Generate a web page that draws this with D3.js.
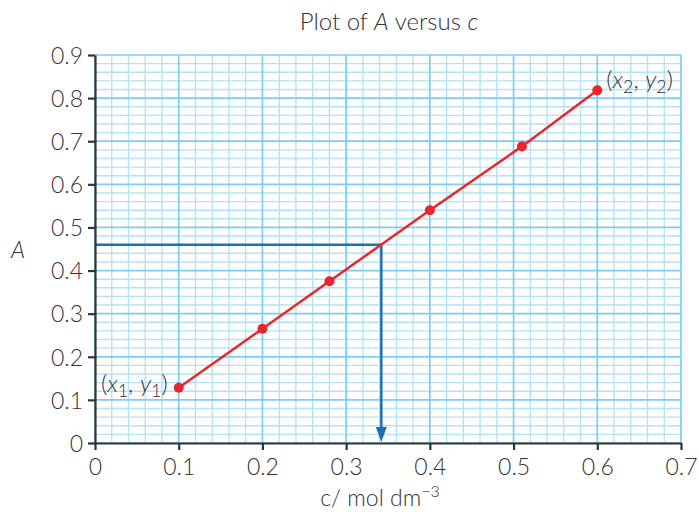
<!DOCTYPE html>
<html>
<head>
<meta charset="utf-8">
<script src="https://cdn.jsdelivr.net/npm/d3@7"></script>
<style>
  html, body { margin: 0; padding: 0; background: #fff; }
  svg text { font-family: "Lato", "Noto Sans", sans-serif; fill: #333; }
</style>
</head>
<body>
<svg id="chart" width="699" height="512"></svg>
<script>
// Concentration (mol dm^-3) and absorbance readings
const concentration = [0.1, 0.2, 0.28, 0.4, 0.51, 0.6];
const absorbance = [0.128, 0.265, 0.375, 0.54, 0.688, 0.818];

// Reading taken from the calibration line for an unknown sample
const unknownAbsorbance = 0.46;
const unknownConcentration = 0.342;

const xTicks = [0, 0.1, 0.2, 0.3, 0.4, 0.5, 0.6, 0.7];
const yTicks = [0, 0.1, 0.2, 0.3, 0.4, 0.5, 0.6, 0.7, 0.8, 0.9];

const svg = d3.select("#chart");
const margin = { left: 95, right: 16, top: 55, bottom: 69 };
const W = 699, H = 512;

const x = d3.scaleLinear().domain([0, 0.7]).range([margin.left, W - margin.right - 2]);
const y = d3.scaleLinear().domain([0, 0.9]).range([H - margin.bottom, margin.top]);

// Graph-paper grid: fine lines every 0.02, stronger lines every 0.1
const fineX = d3.range(0, 0.7001, 0.02).filter(v => Math.abs(v * 10 - Math.round(v * 10)) > 1e-6);
const fineY = d3.range(0, 0.9001, 0.02).filter(v => Math.abs(v * 10 - Math.round(v * 10)) > 1e-6);

const grid = svg.append("g");
grid.selectAll("line.fx").data(fineX).join("line")
  .attr("x1", d => x(d)).attr("x2", d => x(d))
  .attr("y1", y(0)).attr("y2", y(0.9))
  .attr("stroke", "#b3e2f7").attr("stroke-width", 1.4);
grid.selectAll("line.fy").data(fineY).join("line")
  .attr("y1", d => y(d)).attr("y2", d => y(d))
  .attr("x1", x(0)).attr("x2", x(0.7))
  .attr("stroke", "#b3e2f7").attr("stroke-width", 1.4);
grid.selectAll("line.mx").data(xTicks).join("line")
  .attr("x1", d => x(d)).attr("x2", d => x(d))
  .attr("y1", y(0)).attr("y2", y(0.9))
  .attr("stroke", "#7ccdf0").attr("stroke-width", 1.7);
grid.selectAll("line.my").data(yTicks).join("line")
  .attr("y1", d => y(d)).attr("y2", d => y(d))
  .attr("x1", x(0)).attr("x2", x(0.7))
  .attr("stroke", "#7ccdf0").attr("stroke-width", 1.7);

// Construction lines reading the unknown sample off the graph
const blue = "#1f6db5";
svg.append("line")
  .attr("x1", x(0)).attr("x2", x(unknownConcentration))
  .attr("y1", y(unknownAbsorbance)).attr("y2", y(unknownAbsorbance))
  .attr("stroke", blue).attr("stroke-width", 2.5);
svg.append("line")
  .attr("x1", x(unknownConcentration)).attr("x2", x(unknownConcentration))
  .attr("y1", y(unknownAbsorbance) - 1.2).attr("y2", y(0) - 12)
  .attr("stroke", blue).attr("stroke-width", 2.5);
const ax = x(unknownConcentration), ay = y(0);
svg.append("path")
  .attr("d", `M${ax - 5.5},${ay - 16} L${ax + 5.5},${ay - 16} L${ax},${ay - 1} Z`)
  .attr("fill", blue);

// Calibration line and data points
const red = "#e8262b";
const pts = concentration.map((c, i) => [c, absorbance[i]]);
svg.append("path")
  .datum(pts)
  .attr("d", d3.line().x(d => x(d[0])).y(d => y(d[1])))
  .attr("fill", "none").attr("stroke", red).attr("stroke-width", 2.5);
svg.selectAll("circle.pt").data(pts).join("circle")
  .attr("cx", d => x(d[0])).attr("cy", d => y(d[1]))
  .attr("r", 5).attr("fill", red);

// Axes
const xAxis = svg.append("g")
  .attr("transform", `translate(0,${y(0)})`)
  .call(d3.axisBottom(x).tickValues(xTicks).tickFormat(d => d === 0 ? "0" : d3.format(".1f")(d)).tickSize(7).tickSizeOuter(0));
const yAxis = svg.append("g")
  .attr("transform", `translate(${x(0)},0)`)
  .call(d3.axisLeft(y).tickValues(yTicks).tickFormat(d => d === 0 ? "0" : d3.format(".1f")(d)).tickSize(7).tickSizeOuter(0));

[xAxis, yAxis].forEach(g => {
  g.select(".domain").attr("stroke", "#333").attr("stroke-width", 2.2);
  g.selectAll(".tick line").attr("stroke", "#333").attr("stroke-width", 2.2);
  g.selectAll(".tick text")
    .attr("fill", "#333")
    .style("font-family", "Lato, 'Noto Sans', sans-serif")
    .style("font-size", "23px")
    .style("font-weight", 300);
});
xAxis.selectAll(".tick text").attr("dy", "0.95em").attr("y", 10);
yAxis.selectAll(".tick text").attr("x", -12).attr("dy", "0.36em");

// Title
const title = svg.append("text")
  .attr("x", 389).attr("y", 30)
  .attr("text-anchor", "middle")
  .style("font-size", "24px").style("font-weight", 300);
title.append("tspan").text("Plot of ");
title.append("tspan").attr("font-style", "italic").text("A");
title.append("tspan").text(" versus ");
title.append("tspan").attr("font-style", "italic").text("c");

// Axis titles
svg.append("text")
  .attr("x", 18).attr("y", 258)
  .attr("text-anchor", "middle")
  .attr("font-style", "italic")
  .style("font-size", "23px").style("font-weight", 300)
  .text("A");

const xt = svg.append("text")
  .attr("x", 380).attr("y", 506)
  .attr("text-anchor", "middle")
  .style("font-size", "23px").style("font-weight", 300);
xt.append("tspan").text("c/ mol dm");
xt.append("tspan").attr("dy", -9).style("font-size", "16px").text("\u22123");

// Point annotations
function coordLabel(px, py, sub, anchor) {
  const t = svg.append("text")
    .attr("x", px).attr("y", py)
    .attr("text-anchor", anchor)
    .style("font-size", "24px").style("font-weight", 300);
  t.append("tspan").text("(");
  t.append("tspan").attr("font-style", "italic").text("x");
  t.append("tspan").attr("dy", 5).style("font-size", "18px").text(sub);
  t.append("tspan").attr("dy", -5).text(", ");
  t.append("tspan").attr("font-style", "italic").text("y");
  t.append("tspan").attr("dy", 5).style("font-size", "18px").text(sub);
  t.append("tspan").attr("dy", -5).text(")");
}
coordLabel(x(concentration[0]) - 11, y(absorbance[0]) + 4, "1", "end");
coordLabel(x(concentration[5]) + 9, y(absorbance[5]) - 2, "2", "start");
</script>
</body>
</html>
